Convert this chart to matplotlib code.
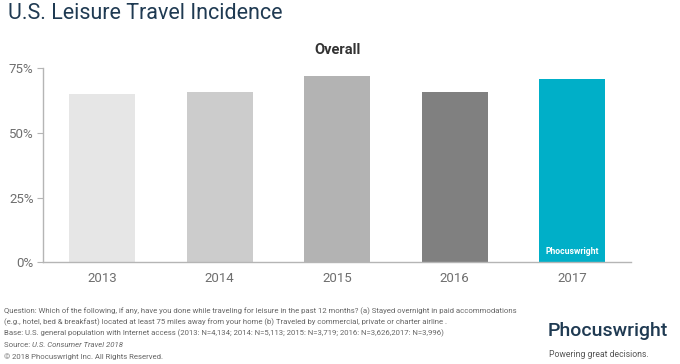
import matplotlib.pyplot as plt
from matplotlib.ticker import PercentFormatter

years = ["2013", "2014", "2015", "2016", "2017"]
incidence = [65, 66, 72, 66, 71]
bar_colors = ["#e6e6e6", "#cccccc", "#b3b3b3", "#808080", "#00afc8"]
y_ticks = [0, 25, 50, 75]

plt.rcParams['font.family'] = ['Roboto', 'DejaVu Sans']

fig = plt.figure(figsize=(6.8, 3.64), dpi=100)
ax = fig.add_axes([0.0637, 0.2794, 0.8643, 0.533])

x = range(len(years))
bars = ax.bar(x, incidence, width=0.56, color=bar_colors)

ax.set_xlim(-0.5, len(years) - 0.5)
ax.set_ylim(0, 75)
ax.set_yticks(y_ticks)
ax.yaxis.set_major_formatter(PercentFormatter(decimals=0))
ax.set_xticks(list(x))
ax.set_xticklabels(years)

for side in ["top", "right"]:
    ax.spines[side].set_visible(False)
for side in ["left", "bottom"]:
    ax.spines[side].set_color("#b5b5b5")
    ax.spines[side].set_linewidth(1.0)
ax.tick_params(axis="y", colors="#b5b5b5", labelcolor="#6e6e6e", labelsize=9.5, length=4, pad=3)
ax.tick_params(axis="x", length=0, labelcolor="#6e6e6e", labelsize=9.5, pad=7)

# watermark in the highlighted bar
last = bars[-1]
ax.text(last.get_x() + last.get_width() / 2, 2.5, "Phocuswright", color="white",
        fontsize=6.2, fontweight="bold", ha="center", va="bottom")

ax.set_title("Overall", fontsize=10.5, fontweight="bold", color="#333333", pad=10)

fig.text(0.012, 0.962, "U.S. Leisure Travel Incidence", fontsize=15.5,
         color="#1f3a52", va="center", ha="left")

notes = [
    "Question: Which of the following, if any, have you done while traveling for leisure in the past 12 months? (a) Stayed overnight in paid accommodations",
    "(e.g., hotel, bed & breakfast) located at least 75 miles away from your home (b) Traveled by commercial, private or charter airline .",
    "Base: U.S. general population with Internet access (2013: N=4,134; 2014: N=5,113; 2015: N=3,719; 2016: N=3,626,2017: N=3,996)",
]
ys = [0.146, 0.116, 0.084]
for t, yy in zip(notes, ys):
    fig.text(0.006, yy, t, fontsize=5.6, color="#666666", va="center")
src = fig.text(0.006, 0.052, "Source: ", fontsize=5.6, color="#666666", va="center")
fig.canvas.draw()
bb = src.get_window_extent()
fig.text(bb.x1 / fig.bbox.width, 0.052, "U.S. Consumer Travel 2018", fontsize=5.6,
         color="#666666", va="center", style="italic")
fig.text(0.006, 0.021, "\u00a9 2018 Phocuswright Inc. All Rights Reserved.", fontsize=5.6,
         color="#666666", va="center")

fig.text(0.805, 0.09, "Phocuswright", fontsize=14, color="#1f3a52", va="center",
         ha="left", fontweight="medium")
fig.text(0.807, 0.027, "Powering great decisions.", fontsize=6.2, color="#555555",
         va="center", ha="left")

fig.savefig("out.png", dpi=100)
